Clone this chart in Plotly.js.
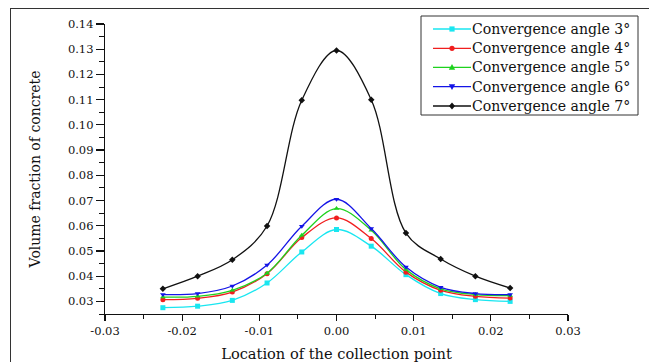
<!DOCTYPE html>
<html>
<head>
<meta charset="utf-8">
<script src="https://cdn.plot.ly/plotly-3.0.1.min.js"></script>
<style>
html,body{margin:0;padding:0;background:#fff;}
#wrap{position:relative;width:649px;height:362px;overflow:hidden;}
#chart{width:649px;height:362px;}
#frame{position:absolute;left:10px;top:8px;width:700px;height:400px;border-top:1.5px solid #333;border-left:1.5px solid #333;pointer-events:none;}
</style>
</head>
<body>
<div id="wrap"><div id="chart"></div><div id="frame"></div></div>
<script>
var xPos = [-0.0225, -0.018, -0.0135, -0.009, -0.0045, 0, 0.0045, 0.009, 0.0135, 0.018, 0.0225];
var angle3 = [0.0275, 0.0281, 0.0304, 0.0373, 0.0496, 0.0585, 0.0519, 0.0406, 0.0331, 0.0307, 0.0300];
var angle4 = [0.0307, 0.0312, 0.0337, 0.0410, 0.0553, 0.0631, 0.0549, 0.0416, 0.0344, 0.0320, 0.0313];
var angle5 = [0.0317, 0.0320, 0.0344, 0.0412, 0.0562, 0.0668, 0.0582, 0.0426, 0.0350, 0.0327, 0.0323];
var angle6 = [0.0327, 0.0331, 0.0361, 0.0444, 0.0598, 0.0705, 0.0589, 0.0436, 0.0356, 0.0331, 0.0327];
var angle7 = [0.0350, 0.0400, 0.0465, 0.0599, 0.1098, 0.1295, 0.1100, 0.0571, 0.0468, 0.0400, 0.0353];
var seriesNames = ["Convergence angle 3°", "Convergence angle 4°", "Convergence angle 5°", "Convergence angle 6°", "Convergence angle 7°"];
var xTickVals = [-0.03, -0.02, -0.01, 0, 0.01, 0.02, 0.03];
var xTickText = ["-0.03", "-0.02", "-0.01", "0.00", "0.01", "0.02", "0.03"];
var yTickVals = [0.03, 0.04, 0.05, 0.06, 0.07, 0.08, 0.09, 0.10, 0.11, 0.12, 0.13, 0.14];
var yTickText = ["0.03", "0.04", "0.05", "0.06", "0.07", "0.08", "0.09", "0.10", "0.11", "0.12", "0.13", "0.14"];

var colors = ["#19e6f0", "#f01e1e", "#1ed21e", "#1414e6", "#111111"];
var symbols = ["square", "circle", "triangle-up", "triangle-down", "diamond"];
var ys = [angle3, angle4, angle5, angle6, angle7];
var traces = ys.map(function(y, i){
  return {
    x: xPos, y: y, name: seriesNames[i], type: "scatter", mode: "lines+markers",
    line: {color: colors[i], width: 1.3, shape: "spline", smoothing: 1},
    marker: {color: colors[i], symbol: symbols[i], size: 5}
  };
});

// plot-area geometry (pixels) used to place the hand-built legend box
var M = {l: 105, r: 81, t: 24, b: 48};
var W = 649, H = 362;
var PW = W - M.l - M.r, PH = H - M.t - M.b;
function px(x){ return (x - M.l) / PW; }
function py(y){ return (H - M.b - y) / PH; }

var serif = "DejaVu Serif, Liberation Serif, serif";
var shapes = [];
var annotations = [];
// legend box
shapes.push({type: "rect", xref: "paper", yref: "paper", x0: px(421), x1: px(638), y0: py(16), y1: py(115),
  line: {color: "#333", width: 1}, fillcolor: "#fff", layer: "above"});
var rowY = [29, 48.3, 67.3, 86.7, 106];
rowY.forEach(function(ry, i){
  var c = colors[i];
  shapes.push({type: "line", xref: "paper", yref: "paper", x0: px(433), x1: px(471), y0: py(ry), y1: py(ry),
    line: {color: c, width: 1.3}, layer: "above"});
  var cx = 452, r = 2.6;
  var s = symbols[i], path;
  if (s === "square") {
    shapes.push({type: "rect", xref: "paper", yref: "paper", x0: px(cx - r), x1: px(cx + r), y0: py(ry + r), y1: py(ry - r),
      line: {width: 0}, fillcolor: c, layer: "above"});
  } else if (s === "circle") {
    shapes.push({type: "circle", xref: "paper", yref: "paper", x0: px(cx - r), x1: px(cx + r), y0: py(ry + r), y1: py(ry - r),
      line: {width: 0}, fillcolor: c, layer: "above"});
  } else {
    var pts;
    if (s === "triangle-up") pts = [[cx, ry - 3.2], [cx + 3.2, ry + 2.4], [cx - 3.2, ry + 2.4]];
    else if (s === "triangle-down") pts = [[cx, ry + 3.2], [cx + 3.2, ry - 2.4], [cx - 3.2, ry - 2.4]];
    else pts = [[cx, ry - 3.4], [cx + 3, ry], [cx, ry + 3.4], [cx - 3, ry]];
    path = "M" + pts.map(function(p){ return px(p[0]) + "," + py(p[1]); }).join(" L") + " Z";
    shapes.push({type: "path", xref: "paper", yref: "paper", path: path, line: {width: 0}, fillcolor: c, layer: "above"});
  }
  annotations.push({xref: "paper", yref: "paper", x: px(470), y: py(ry), xanchor: "left", yanchor: "middle",
    text: seriesNames[i], showarrow: false, font: {family: serif, size: 14.1, color: "#111"}});
});

var layout = {
  width: W, height: H,
  margin: M,
  paper_bgcolor: "#fff", plot_bgcolor: "#fff",
  showlegend: false,
  font: {family: serif, color: "#111"},
  shapes: shapes,
  annotations: annotations,
  xaxis: {
    range: [-0.03, 0.03], showgrid: false, zeroline: false,
    showline: true, linecolor: "#111", linewidth: 1.2,
    ticks: "outside", ticklen: 6, tickcolor: "#111", tickwidth: 1.2,
    tickvals: xTickVals, ticktext: xTickText,
    minor: {ticks: "outside", ticklen: 4, tickcolor: "#111", tickwidth: 1, dtick: 0.005, tick0: 0, showgrid: false},
    tickfont: {family: serif, size: 11.5, color: "#111"},
    title: {text: "Location of the collection point", font: {family: serif, size: 14.6, color: "#111"}, standoff: 14}
  },
  yaxis: {
    range: [0.025, 0.14], showgrid: false, zeroline: false,
    showline: true, linecolor: "#111", linewidth: 1.2,
    ticks: "outside", ticklen: 8, tickcolor: "#111", tickwidth: 1.2,
    tickvals: yTickVals, ticktext: yTickText,
    minor: {ticks: "outside", ticklen: 5, tickcolor: "#111", tickwidth: 1, dtick: 0.005, tick0: 0, showgrid: false},
    tickfont: {family: serif, size: 11.5, color: "#111"},
    title: {text: "Volume fraction of concrete", font: {family: serif, size: 14, color: "#111"}, standoff: 24}
  }
};
Plotly.newPlot("chart", traces, layout, {displayModeBar: false, staticPlot: true});
</script>
</body>
</html>
